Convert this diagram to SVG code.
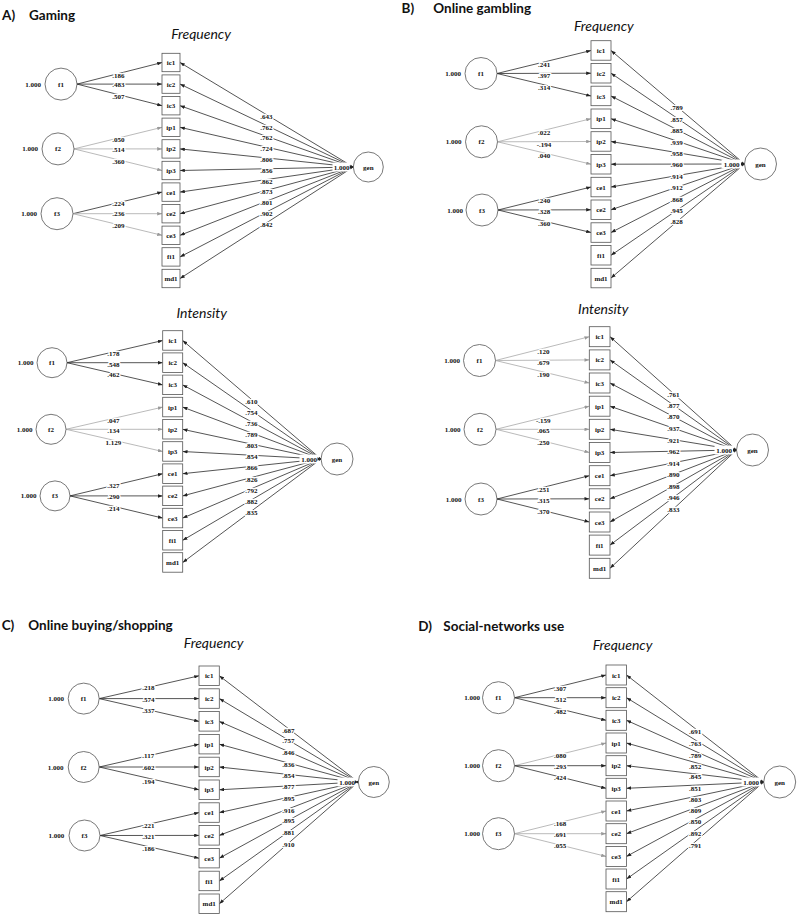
<svg xmlns="http://www.w3.org/2000/svg" width="797" height="916" viewBox="0 0 797 916">
<style>
.bg{fill:#fff}
rect.bx{fill:#fff;stroke:#555;stroke-width:0.8}
circle.ci{fill:#fff;stroke:#555;stroke-width:0.8}
text{font-family:"Liberation Serif",serif;font-weight:bold;font-size:7px;fill:#111}
.t{text-anchor:middle}
.v{text-anchor:end}
.n{text-anchor:middle;stroke:#fff;stroke-width:2.6px;stroke-linejoin:round;paint-order:stroke}
.ld{stroke:#2a2a2a;stroke-width:0.8;fill:none;marker-end:url(#ad)}
.lg{stroke:#a8a8a8;stroke-width:0.8;fill:none;marker-end:url(#ag)}
.cov{fill:#fff}
.ah{fill:#222}
.ttl{font-family:Lato,"Liberation Sans",sans-serif;font-weight:bold;font-size:13.5px;fill:#111}
.sub{font-family:Lato,"Liberation Sans",sans-serif;font-style:italic;font-weight:normal;font-size:14px;fill:#111;text-anchor:middle}
</style>
<defs>
<marker id="ad" viewBox="0 0 8 6" refX="8" refY="3" markerWidth="5" markerHeight="3.6" orient="auto" markerUnits="userSpaceOnUse"><path d="M0,0L8,3L0,6z" fill="#222"/></marker>
<marker id="ag" viewBox="0 0 8 6" refX="8" refY="3" markerWidth="5" markerHeight="3.6" orient="auto" markerUnits="userSpaceOnUse"><path d="M0,0L8,3L0,6z" fill="#999"/></marker>
</defs>
<rect class="bg" x="0" y="0" width="797" height="916"/>

<!-- Titles -->
<g id="titles">
<text class="ttl" x="2" y="20">A)</text><text class="ttl" x="29" y="20">Gaming</text>
<text class="ttl" x="401.5" y="13">B)</text><text class="ttl" x="433.3" y="13">Online gambling</text>
<text class="ttl" x="1.7" y="629.5">C)</text><text class="ttl" x="28.3" y="629.5">Online buying/shopping</text>
<text class="ttl" x="418.3" y="631">D)</text><text class="ttl" x="443.3" y="631">Social-networks use</text>
<text class="sub" x="201" y="38.5">Frequency</text>
<text class="sub" x="201.7" y="317.5">Intensity</text>
<text class="sub" x="603.8" y="30.5">Frequency</text>
<text class="sub" x="603.3" y="314">Intensity</text>
<text class="sub" x="213.7" y="648">Frequency</text>
<text class="sub" x="622.5" y="650">Frequency</text>
</g>

<!-- ================= Panel A Frequency ================= -->
<g id="a1-edges">
<line class="ld" x1="77" y1="84.1" x2="162" y2="62.5"/>
<line class="ld" x1="77" y1="84.1" x2="162" y2="84.1"/>
<line class="ld" x1="77" y1="84.1" x2="162" y2="105.7"/>
<line class="lg" x1="74" y1="148.9" x2="162" y2="127.3"/>
<line class="lg" x1="74" y1="148.9" x2="162" y2="148.9"/>
<line class="lg" x1="74" y1="148.9" x2="162" y2="170.5"/>
<line class="ld" x1="73" y1="213.7" x2="162" y2="192.1"/>
<line class="lg" x1="73" y1="213.7" x2="162" y2="213.7"/>
<line class="lg" x1="73" y1="213.7" x2="162" y2="235.3"/>
<line class="ld" x1="353.3" y1="167" x2="180" y2="62.5"/>
<line class="ld" x1="353.3" y1="167" x2="180" y2="84.1"/>
<line class="ld" x1="353.3" y1="167" x2="180" y2="105.7"/>
<line class="ld" x1="353.3" y1="167" x2="180" y2="127.3"/>
<line class="ld" x1="353.3" y1="167" x2="180" y2="148.9"/>
<line class="ld" x1="353.3" y1="167" x2="180" y2="170.5"/>
<line class="ld" x1="353.3" y1="167" x2="180" y2="192.1"/>
<line class="ld" x1="353.3" y1="167" x2="180" y2="213.7"/>
<line class="ld" x1="353.3" y1="167" x2="180" y2="235.3"/>
<line class="ld" x1="353.3" y1="167" x2="180" y2="256.9"/>
<line class="ld" x1="353.3" y1="167" x2="180" y2="278.5"/>
<text class="n" x="118.3" y="77.5">.186</text>
<text class="n" x="118.3" y="86.8">.483</text>
<text class="n" x="118.3" y="99.2">.507</text>
<text class="n" x="118.3" y="141.8">.050</text>
<text class="n" x="118.3" y="151.5">.514</text>
<text class="n" x="118.3" y="164.2">.360</text>
<text class="n" x="118.3" y="205.8">.224</text>
<text class="n" x="118.3" y="215.8">.236</text>
<text class="n" x="118.3" y="228.2">.209</text>
<text class="n" x="266.3" y="119.2">.643</text>
<text class="n" x="266.3" y="129.5">.762</text>
<text class="n" x="266.3" y="139.8">.762</text>
<text class="n" x="266.3" y="151.2">.724</text>
<text class="n" x="266.3" y="161.8">.806</text>
<text class="n" x="266.3" y="172.5">.856</text>
<text class="n" x="266.3" y="183.5">.862</text>
<text class="n" x="266.3" y="194.2">.873</text>
<text class="n" x="266.3" y="205.2">.801</text>
<text class="n" x="266.3" y="215.8">.902</text>
<text class="n" x="266.3" y="226.5">.842</text>
</g>
<g id="a1-nodes">
<g id="a1-f1"><circle class="ci" cx="61" cy="84.1" r="16"/><text class="t" x="61" y="86.6">f1</text><text class="v" x="41" y="86.6">1.000</text></g>
<g id="a1-f2"><circle class="ci" cx="58" cy="148.9" r="16"/><text class="t" x="58" y="151.4">f2</text><text class="v" x="38" y="151.4">1.000</text></g>
<g id="a1-f3"><circle class="ci" cx="57" cy="213.7" r="16"/><text class="t" x="57" y="216.2">f3</text><text class="v" x="37" y="216.2">1.000</text></g>
<g id="a1-gen"><circle class="ci" cx="368.3" cy="167" r="15"/><text class="t" x="368.3" y="169.5">gen</text><rect class="cov" x="332.5" y="162.5" width="18" height="9"/><text class="t" x="341.5" y="169.5">1.000</text><polygon class="ah" points="353.3,167 349.8,165.3 349.8,168.7"/></g>
<g id="a1-ic1"><rect class="bx" x="162" y="53.3" width="18" height="18.4"/><text class="t" x="171" y="65">ic1</text></g>
<g id="a1-ic2"><rect class="bx" x="162" y="74.9" width="18" height="18.4"/><text class="t" x="171" y="86.6">ic2</text></g>
<g id="a1-ic3"><rect class="bx" x="162" y="96.5" width="18" height="18.4"/><text class="t" x="171" y="108.2">ic3</text></g>
<g id="a1-ip1"><rect class="bx" x="162" y="118.1" width="18" height="18.4"/><text class="t" x="171" y="129.8">ip1</text></g>
<g id="a1-ip2"><rect class="bx" x="162" y="139.7" width="18" height="18.4"/><text class="t" x="171" y="151.4">ip2</text></g>
<g id="a1-ip3"><rect class="bx" x="162" y="161.3" width="18" height="18.4"/><text class="t" x="171" y="173">ip3</text></g>
<g id="a1-ce1"><rect class="bx" x="162" y="182.9" width="18" height="18.4"/><text class="t" x="171" y="194.6">ce1</text></g>
<g id="a1-ce2"><rect class="bx" x="162" y="204.5" width="18" height="18.4"/><text class="t" x="171" y="216.2">ce2</text></g>
<g id="a1-ce3"><rect class="bx" x="162" y="226.1" width="18" height="18.4"/><text class="t" x="171" y="237.8">ce3</text></g>
<g id="a1-fi1"><rect class="bx" x="162" y="247.7" width="18" height="18.4"/><text class="t" x="171" y="259.4">fi1</text></g>
<g id="a1-md1"><rect class="bx" x="162" y="269.3" width="18" height="18.4"/><text class="t" x="171" y="281">md1</text></g>
</g>

<!-- ================= Panel A Intensity ================= -->
<g id="a2-edges">
<line class="ld" x1="67" y1="362.7" x2="162.7" y2="340.5"/>
<line class="ld" x1="67" y1="362.7" x2="162.7" y2="362.7"/>
<line class="ld" x1="67" y1="362.7" x2="162.7" y2="384.9"/>
<line class="lg" x1="66" y1="429.3" x2="162.7" y2="407.1"/>
<line class="lg" x1="66" y1="429.3" x2="162.7" y2="429.3"/>
<line class="lg" x1="66" y1="429.3" x2="162.7" y2="451.5"/>
<line class="ld" x1="70" y1="495.9" x2="162.7" y2="473.7"/>
<line class="ld" x1="70" y1="495.9" x2="162.7" y2="495.9"/>
<line class="ld" x1="70" y1="495.9" x2="162.7" y2="518.1"/>
<line class="ld" x1="321" y1="459" x2="182.7" y2="340.5"/>
<line class="ld" x1="321" y1="459" x2="182.7" y2="362.7"/>
<line class="ld" x1="321" y1="459" x2="182.7" y2="384.9"/>
<line class="ld" x1="321" y1="459" x2="182.7" y2="407.1"/>
<line class="ld" x1="321" y1="459" x2="182.7" y2="429.3"/>
<line class="ld" x1="321" y1="459" x2="182.7" y2="451.5"/>
<line class="ld" x1="321" y1="459" x2="182.7" y2="473.7"/>
<line class="ld" x1="321" y1="459" x2="182.7" y2="495.9"/>
<line class="ld" x1="321" y1="459" x2="182.7" y2="518.1"/>
<line class="ld" x1="321" y1="459" x2="182.7" y2="540.3"/>
<line class="ld" x1="321" y1="459" x2="182.7" y2="562.5"/>
<text class="n" x="113.3" y="355.8">.178</text>
<text class="n" x="113.3" y="366.5">.548</text>
<text class="n" x="113.3" y="377.2">.462</text>
<text class="n" x="113.3" y="422.5">.047</text>
<text class="n" x="113.3" y="433.2">.134</text>
<text class="n" x="113.3" y="444.8">1.129</text>
<text class="n" x="113.3" y="488.2">.327</text>
<text class="n" x="113.3" y="499.2">.290</text>
<text class="n" x="113.3" y="510.8">.214</text>
<text class="n" x="251.3" y="404.2">.610</text>
<text class="n" x="251.3" y="414.8">.754</text>
<text class="n" x="251.3" y="425.8">.736</text>
<text class="n" x="251.3" y="436.8">.789</text>
<text class="n" x="251.3" y="448.2">.803</text>
<text class="n" x="251.3" y="459.2">.854</text>
<text class="n" x="251.3" y="469.8">.866</text>
<text class="n" x="251.3" y="481.5">.826</text>
<text class="n" x="251.3" y="492.5">.792</text>
<text class="n" x="251.3" y="503.5">.882</text>
<text class="n" x="251.3" y="514.8">.835</text>
</g>
<g id="a2-nodes">
<g id="a2-f1"><circle class="ci" cx="52" cy="362.7" r="15"/><text class="t" x="52" y="365.2">f1</text><text class="v" x="33.5" y="365.2">1.000</text></g>
<g id="a2-f2"><circle class="ci" cx="51" cy="429.3" r="15"/><text class="t" x="51" y="431.8">f2</text><text class="v" x="32.5" y="431.8">1.000</text></g>
<g id="a2-f3"><circle class="ci" cx="55" cy="495.9" r="15"/><text class="t" x="55" y="498.4">f3</text><text class="v" x="36.5" y="498.4">1.000</text></g>
<g id="a2-gen"><circle class="ci" cx="337" cy="459" r="16"/><text class="t" x="337" y="461.5">gen</text><rect class="cov" x="299.5" y="454.5" width="19.5" height="9"/><text class="t" x="309.2" y="461.5">1.000</text><polygon class="ah" points="321,459 317.5,457.3 317.5,460.7"/></g>
<g id="a2-ic1"><rect class="bx" x="162.7" y="330.7" width="20" height="19.5"/><text class="t" x="172.7" y="343">ic1</text></g>
<g id="a2-ic2"><rect class="bx" x="162.7" y="352.9" width="20" height="19.5"/><text class="t" x="172.7" y="365.2">ic2</text></g>
<g id="a2-ic3"><rect class="bx" x="162.7" y="375.1" width="20" height="19.5"/><text class="t" x="172.7" y="387.4">ic3</text></g>
<g id="a2-ip1"><rect class="bx" x="162.7" y="397.3" width="20" height="19.5"/><text class="t" x="172.7" y="409.6">ip1</text></g>
<g id="a2-ip2"><rect class="bx" x="162.7" y="419.5" width="20" height="19.5"/><text class="t" x="172.7" y="431.8">ip2</text></g>
<g id="a2-ip3"><rect class="bx" x="162.7" y="441.7" width="20" height="19.5"/><text class="t" x="172.7" y="454">ip3</text></g>
<g id="a2-ce1"><rect class="bx" x="162.7" y="463.9" width="20" height="19.5"/><text class="t" x="172.7" y="476.2">ce1</text></g>
<g id="a2-ce2"><rect class="bx" x="162.7" y="486.1" width="20" height="19.5"/><text class="t" x="172.7" y="498.4">ce2</text></g>
<g id="a2-ce3"><rect class="bx" x="162.7" y="508.3" width="20" height="19.5"/><text class="t" x="172.7" y="520.6">ce3</text></g>
<g id="a2-fi1"><rect class="bx" x="162.7" y="530.5" width="20" height="19.5"/><text class="t" x="172.7" y="542.8">fi1</text></g>
<g id="a2-md1"><rect class="bx" x="162.7" y="552.7" width="20" height="19.5"/><text class="t" x="172.7" y="565">md1</text></g>
</g>

<!-- ================= Panel B Frequency ================= -->
<g id="b1-edges">
<line class="ld" x1="497" y1="73.5" x2="591" y2="50.5"/>
<line class="ld" x1="497" y1="73.5" x2="591" y2="73.2"/>
<line class="ld" x1="497" y1="73.5" x2="591" y2="96"/>
<line class="lg" x1="497.5" y1="141.8" x2="591" y2="118.7"/>
<line class="lg" x1="497.5" y1="141.8" x2="591" y2="141.5"/>
<line class="lg" x1="497.5" y1="141.8" x2="591" y2="164.2"/>
<line class="ld" x1="498" y1="210" x2="591" y2="187"/>
<line class="ld" x1="498" y1="210" x2="591" y2="209.8"/>
<line class="ld" x1="498" y1="210" x2="591" y2="232.5"/>
<line class="ld" x1="744.5" y1="164" x2="611" y2="50.5"/>
<line class="ld" x1="744.5" y1="164" x2="611" y2="73.2"/>
<line class="ld" x1="744.5" y1="164" x2="611" y2="96"/>
<line class="ld" x1="744.5" y1="164" x2="611" y2="118.7"/>
<line class="ld" x1="744.5" y1="164" x2="611" y2="141.5"/>
<line class="ld" x1="744.5" y1="164" x2="611" y2="164.2"/>
<line class="ld" x1="744.5" y1="164" x2="611" y2="187"/>
<line class="ld" x1="744.5" y1="164" x2="611" y2="209.8"/>
<line class="ld" x1="744.5" y1="164" x2="611" y2="232.5"/>
<line class="ld" x1="744.5" y1="164" x2="611" y2="255.3"/>
<line class="ld" x1="744.5" y1="164" x2="611" y2="278"/>
<text class="n" x="544" y="66.8">.241</text>
<text class="n" x="544" y="78.2">.397</text>
<text class="n" x="544" y="90.2">.314</text>
<text class="n" x="544" y="135.2">.022</text>
<text class="n" x="544" y="146.5">-.194</text>
<text class="n" x="544" y="157.5">.040</text>
<text class="n" x="544" y="203.2">.240</text>
<text class="n" x="544" y="213.5">.328</text>
<text class="n" x="544" y="225.8">.360</text>
<text class="n" x="676.7" y="110.2">.789</text>
<text class="n" x="676.7" y="121.8">.857</text>
<text class="n" x="676.7" y="133.2">.885</text>
<text class="n" x="676.7" y="144.8">.939</text>
<text class="n" x="676.7" y="155.8">.958</text>
<text class="n" x="676.7" y="167.2">.960</text>
<text class="n" x="676.7" y="178.5">.914</text>
<text class="n" x="676.7" y="189.8">.912</text>
<text class="n" x="676.7" y="201.5">.868</text>
<text class="n" x="676.7" y="212.8">.945</text>
<text class="n" x="676.7" y="224.2">.828</text>
</g>
<g id="b1-nodes">
<g id="b1-f1"><circle class="ci" cx="481" cy="73.5" r="16"/><text class="t" x="481" y="76">f1</text><text class="v" x="461" y="76">1.000</text></g>
<g id="b1-f2"><circle class="ci" cx="481.5" cy="141.8" r="16"/><text class="t" x="481.5" y="144.3">f2</text><text class="v" x="461.5" y="144.3">1.000</text></g>
<g id="b1-f3"><circle class="ci" cx="482" cy="210" r="16"/><text class="t" x="482" y="212.5">f3</text><text class="v" x="463" y="212.5">1.000</text></g>
<g id="b1-gen"><circle class="ci" cx="760.5" cy="164" r="16"/><text class="t" x="760.5" y="166.5">gen</text><rect class="cov" x="721.5" y="159.5" width="20.5" height="9"/><text class="t" x="731.7" y="166.5">1.000</text><polygon class="ah" points="744.5,164 741,162.3 741,165.7"/></g>
<g id="b1-ic1"><rect class="bx" x="591" y="40.7" width="20" height="19.5"/><text class="t" x="601" y="53">ic1</text></g>
<g id="b1-ic2"><rect class="bx" x="591" y="63.5" width="20" height="19.5"/><text class="t" x="601" y="75.7">ic2</text></g>
<g id="b1-ic3"><rect class="bx" x="591" y="86.2" width="20" height="19.5"/><text class="t" x="601" y="98.5">ic3</text></g>
<g id="b1-ip1"><rect class="bx" x="591" y="109" width="20" height="19.5"/><text class="t" x="601" y="121.2">ip1</text></g>
<g id="b1-ip2"><rect class="bx" x="591" y="131.7" width="20" height="19.5"/><text class="t" x="601" y="144">ip2</text></g>
<g id="b1-ip3"><rect class="bx" x="591" y="154.5" width="20" height="19.5"/><text class="t" x="601" y="166.7">ip3</text></g>
<g id="b1-ce1"><rect class="bx" x="591" y="177.3" width="20" height="19.5"/><text class="t" x="601" y="189.5">ce1</text></g>
<g id="b1-ce2"><rect class="bx" x="591" y="200" width="20" height="19.5"/><text class="t" x="601" y="212.3">ce2</text></g>
<g id="b1-ce3"><rect class="bx" x="591" y="222.8" width="20" height="19.5"/><text class="t" x="601" y="235">ce3</text></g>
<g id="b1-fi1"><rect class="bx" x="591" y="245.5" width="20" height="19.5"/><text class="t" x="601" y="257.8">fi1</text></g>
<g id="b1-md1"><rect class="bx" x="591" y="268.3" width="20" height="19.5"/><text class="t" x="601" y="280.5">md1</text></g>
</g>

<!-- ================= Panel B Intensity ================= -->
<g id="b2-edges">
<line class="lg" x1="495.5" y1="360.5" x2="589.3" y2="336.7"/>
<line class="lg" x1="495.5" y1="360.5" x2="589.3" y2="359.9"/>
<line class="lg" x1="495.5" y1="360.5" x2="589.3" y2="383"/>
<line class="lg" x1="496" y1="429.3" x2="589.3" y2="406.2"/>
<line class="lg" x1="496" y1="429.3" x2="589.3" y2="429.3"/>
<line class="lg" x1="496" y1="429.3" x2="589.3" y2="452.5"/>
<line class="ld" x1="497" y1="499" x2="589.3" y2="475.7"/>
<line class="ld" x1="497" y1="499" x2="589.3" y2="498.8"/>
<line class="ld" x1="497" y1="499" x2="589.3" y2="522"/>
<line class="ld" x1="736.5" y1="450" x2="610" y2="336.7"/>
<line class="ld" x1="736.5" y1="450" x2="610" y2="359.9"/>
<line class="ld" x1="736.5" y1="450" x2="610" y2="383"/>
<line class="ld" x1="736.5" y1="450" x2="610" y2="406.2"/>
<line class="ld" x1="736.5" y1="450" x2="610" y2="429.3"/>
<line class="ld" x1="736.5" y1="450" x2="610" y2="452.5"/>
<line class="ld" x1="736.5" y1="450" x2="610" y2="475.7"/>
<line class="ld" x1="736.5" y1="450" x2="610" y2="498.8"/>
<line class="ld" x1="736.5" y1="450" x2="610" y2="522"/>
<line class="ld" x1="736.5" y1="450" x2="610" y2="545.1"/>
<line class="ld" x1="736.5" y1="450" x2="610" y2="568.3"/>
<text class="n" x="543.3" y="353.5">.120</text>
<text class="n" x="543.3" y="364.5">.679</text>
<text class="n" x="543.3" y="376.5">.190</text>
<text class="n" x="543.3" y="422.5">-.159</text>
<text class="n" x="543.3" y="432.5">.065</text>
<text class="n" x="543.3" y="445.2">.250</text>
<text class="n" x="543.3" y="491.8">.251</text>
<text class="n" x="543.3" y="502.5">.315</text>
<text class="n" x="543.3" y="514.2">.370</text>
<text class="n" x="673.3" y="396.5">.761</text>
<text class="n" x="673.3" y="407.5">.877</text>
<text class="n" x="673.3" y="419.2">.870</text>
<text class="n" x="673.3" y="430.8">.937</text>
<text class="n" x="673.3" y="442.5">.921</text>
<text class="n" x="673.3" y="454.2">.962</text>
<text class="n" x="673.3" y="465.8">.914</text>
<text class="n" x="673.3" y="476.8">.890</text>
<text class="n" x="673.3" y="488.5">.898</text>
<text class="n" x="673.3" y="500.2">.946</text>
<text class="n" x="673.3" y="511.8">.833</text>
</g>
<g id="b2-nodes">
<g id="b2-f1"><circle class="ci" cx="479.5" cy="360.5" r="16"/><text class="t" x="479.5" y="363">f1</text><text class="v" x="460" y="363">1.000</text></g>
<g id="b2-f2"><circle class="ci" cx="480" cy="429.3" r="16"/><text class="t" x="480" y="431.8">f2</text><text class="v" x="460.5" y="431.8">1.000</text></g>
<g id="b2-f3"><circle class="ci" cx="481" cy="499" r="16"/><text class="t" x="481" y="501.5">f3</text><text class="v" x="461.5" y="501.5">1.000</text></g>
<g id="b2-gen"><circle class="ci" cx="752.5" cy="450" r="16"/><text class="t" x="752.5" y="452.5">gen</text><rect class="cov" x="714.5" y="445.5" width="19.5" height="9"/><text class="t" x="724.2" y="452.5">1.000</text><polygon class="ah" points="736.5,450 733,448.3 733,451.7"/></g>
<g id="b2-ic1"><rect class="bx" x="589.3" y="326.7" width="20.7" height="20"/><text class="t" x="599.7" y="339.2">ic1</text></g>
<g id="b2-ic2"><rect class="bx" x="589.3" y="349.9" width="20.7" height="20"/><text class="t" x="599.7" y="362.4">ic2</text></g>
<g id="b2-ic3"><rect class="bx" x="589.3" y="373" width="20.7" height="20"/><text class="t" x="599.7" y="385.5">ic3</text></g>
<g id="b2-ip1"><rect class="bx" x="589.3" y="396.2" width="20.7" height="20"/><text class="t" x="599.7" y="408.7">ip1</text></g>
<g id="b2-ip2"><rect class="bx" x="589.3" y="419.3" width="20.7" height="20"/><text class="t" x="599.7" y="431.8">ip2</text></g>
<g id="b2-ip3"><rect class="bx" x="589.3" y="442.5" width="20.7" height="20"/><text class="t" x="599.7" y="455">ip3</text></g>
<g id="b2-ce1"><rect class="bx" x="589.3" y="465.7" width="20.7" height="20"/><text class="t" x="599.7" y="478.2">ce1</text></g>
<g id="b2-ce2"><rect class="bx" x="589.3" y="488.8" width="20.7" height="20"/><text class="t" x="599.7" y="501.3">ce2</text></g>
<g id="b2-ce3"><rect class="bx" x="589.3" y="512" width="20.7" height="20"/><text class="t" x="599.7" y="524.5">ce3</text></g>
<g id="b2-fi1"><rect class="bx" x="589.3" y="535.1" width="20.7" height="20"/><text class="t" x="599.7" y="547.6">fi1</text></g>
<g id="b2-md1"><rect class="bx" x="589.3" y="558.3" width="20.7" height="20"/><text class="t" x="599.7" y="570.8">md1</text></g>
</g>

<!-- ================= Panel C Frequency ================= -->
<g id="c1-edges">
<line class="ld" x1="99.2" y1="698.6" x2="199" y2="675.8"/>
<line class="ld" x1="99.2" y1="698.6" x2="199" y2="698.6"/>
<line class="ld" x1="99.2" y1="698.6" x2="199" y2="721.4"/>
<line class="ld" x1="99.2" y1="767" x2="199" y2="744.2"/>
<line class="ld" x1="99.2" y1="767" x2="199" y2="767"/>
<line class="ld" x1="99.2" y1="767" x2="199" y2="789.8"/>
<line class="ld" x1="100" y1="835.5" x2="199" y2="812.6"/>
<line class="ld" x1="100" y1="835.5" x2="199" y2="835.4"/>
<line class="ld" x1="100" y1="835.5" x2="199" y2="858.2"/>
<line class="ld" x1="358.3" y1="782" x2="219.3" y2="675.8"/>
<line class="ld" x1="358.3" y1="782" x2="219.3" y2="698.6"/>
<line class="ld" x1="358.3" y1="782" x2="219.3" y2="721.4"/>
<line class="ld" x1="358.3" y1="782" x2="219.3" y2="744.2"/>
<line class="ld" x1="358.3" y1="782" x2="219.3" y2="767"/>
<line class="ld" x1="358.3" y1="782" x2="219.3" y2="789.8"/>
<line class="ld" x1="358.3" y1="782" x2="219.3" y2="812.6"/>
<line class="ld" x1="358.3" y1="782" x2="219.3" y2="835.4"/>
<line class="ld" x1="358.3" y1="782" x2="219.3" y2="858.2"/>
<line class="ld" x1="358.3" y1="782" x2="219.3" y2="881"/>
<line class="ld" x1="358.3" y1="782" x2="219.3" y2="903.8"/>
<text class="n" x="148.3" y="690.2">.218</text>
<text class="n" x="148.3" y="701.5">.574</text>
<text class="n" x="148.3" y="713.2">.337</text>
<text class="n" x="148.3" y="758.2">.117</text>
<text class="n" x="148.3" y="770.2">.602</text>
<text class="n" x="148.3" y="783.5">.194</text>
<text class="n" x="148.3" y="827.5">.221</text>
<text class="n" x="148.3" y="839.2">.321</text>
<text class="n" x="148.3" y="850.8">.186</text>
<text class="n" x="288.3" y="732.5">.687</text>
<text class="n" x="288.3" y="743.2">.757</text>
<text class="n" x="288.3" y="754.8">.846</text>
<text class="n" x="288.3" y="766.5">.836</text>
<text class="n" x="288.3" y="778.2">.854</text>
<text class="n" x="288.3" y="789.2">.877</text>
<text class="n" x="288.3" y="800.8">.895</text>
<text class="n" x="288.3" y="812.5">.916</text>
<text class="n" x="288.3" y="823.2">.895</text>
<text class="n" x="288.3" y="834.8">.881</text>
<text class="n" x="288.3" y="846.5">.910</text>
</g>
<g id="c1-nodes">
<g id="c1-f1"><circle class="ci" cx="83.7" cy="698.6" r="15.5"/><text class="t" x="83.7" y="701.1">f1</text><text class="v" x="64" y="701.1">1.000</text></g>
<g id="c1-f2"><circle class="ci" cx="83.7" cy="767" r="15.5"/><text class="t" x="83.7" y="769.5">f2</text><text class="v" x="63.5" y="769.5">1.000</text></g>
<g id="c1-f3"><circle class="ci" cx="84.5" cy="835.5" r="15.5"/><text class="t" x="84.5" y="838">f3</text><text class="v" x="64.3" y="838">1.000</text></g>
<g id="c1-gen"><circle class="ci" cx="373.8" cy="782" r="15.5"/><text class="t" x="373.8" y="784.5">gen</text><rect class="cov" x="337.5" y="777.5" width="19.5" height="9"/><text class="t" x="347.2" y="784.5">1.000</text><polygon class="ah" points="358.3,782 354.8,780.3 354.8,783.7"/></g>
<g id="c1-ic1"><rect class="bx" x="199" y="666" width="20.3" height="19.5"/><text class="t" x="209.2" y="678.3">ic1</text></g>
<g id="c1-ic2"><rect class="bx" x="199" y="688.8" width="20.3" height="19.5"/><text class="t" x="209.2" y="701.1">ic2</text></g>
<g id="c1-ic3"><rect class="bx" x="199" y="711.6" width="20.3" height="19.5"/><text class="t" x="209.2" y="723.9">ic3</text></g>
<g id="c1-ip1"><rect class="bx" x="199" y="734.4" width="20.3" height="19.5"/><text class="t" x="209.2" y="746.7">ip1</text></g>
<g id="c1-ip2"><rect class="bx" x="199" y="757.2" width="20.3" height="19.5"/><text class="t" x="209.2" y="769.5">ip2</text></g>
<g id="c1-ip3"><rect class="bx" x="199" y="780" width="20.3" height="19.5"/><text class="t" x="209.2" y="792.3">ip3</text></g>
<g id="c1-ce1"><rect class="bx" x="199" y="802.8" width="20.3" height="19.5"/><text class="t" x="209.2" y="815.1">ce1</text></g>
<g id="c1-ce2"><rect class="bx" x="199" y="825.6" width="20.3" height="19.5"/><text class="t" x="209.2" y="837.9">ce2</text></g>
<g id="c1-ce3"><rect class="bx" x="199" y="848.4" width="20.3" height="19.5"/><text class="t" x="209.2" y="860.7">ce3</text></g>
<g id="c1-fi1"><rect class="bx" x="199" y="871.2" width="20.3" height="19.5"/><text class="t" x="209.2" y="883.5">fi1</text></g>
<g id="c1-md1"><rect class="bx" x="199" y="894" width="20.3" height="19.5"/><text class="t" x="209.2" y="906.3">md1</text></g>
</g>

<!-- ================= Panel D Frequency ================= -->
<g id="d1-edges">
<line class="ld" x1="514.5" y1="697.7" x2="606" y2="675"/>
<line class="ld" x1="514.5" y1="697.7" x2="606" y2="697.7"/>
<line class="ld" x1="514.5" y1="697.7" x2="606" y2="720.3"/>
<line class="lg" x1="514.5" y1="765.7" x2="606" y2="743"/>
<line class="ld" x1="514.5" y1="765.7" x2="606" y2="765.7"/>
<line class="ld" x1="514.5" y1="765.7" x2="606" y2="788.3"/>
<line class="lg" x1="514.5" y1="833.7" x2="606" y2="811"/>
<line class="lg" x1="514.5" y1="833.7" x2="606" y2="833.7"/>
<line class="lg" x1="514.5" y1="833.7" x2="606" y2="856.4"/>
<line class="ld" x1="763.7" y1="782" x2="626.5" y2="675"/>
<line class="ld" x1="763.7" y1="782" x2="626.5" y2="697.7"/>
<line class="ld" x1="763.7" y1="782" x2="626.5" y2="720.3"/>
<line class="ld" x1="763.7" y1="782" x2="626.5" y2="743"/>
<line class="ld" x1="763.7" y1="782" x2="626.5" y2="765.7"/>
<line class="ld" x1="763.7" y1="782" x2="626.5" y2="788.3"/>
<line class="ld" x1="763.7" y1="782" x2="626.5" y2="811"/>
<line class="ld" x1="763.7" y1="782" x2="626.5" y2="833.7"/>
<line class="ld" x1="763.7" y1="782" x2="626.5" y2="856.4"/>
<line class="ld" x1="763.7" y1="782" x2="626.5" y2="879"/>
<line class="ld" x1="763.7" y1="782" x2="626.5" y2="901.7"/>
<text class="n" x="560" y="690.8">.307</text>
<text class="n" x="560" y="701.5">.512</text>
<text class="n" x="560" y="713.5">.482</text>
<text class="n" x="560" y="758.2">.080</text>
<text class="n" x="560" y="769.2">.293</text>
<text class="n" x="560" y="780.2">.424</text>
<text class="n" x="560" y="825.8">.168</text>
<text class="n" x="560" y="836.8">.691</text>
<text class="n" x="560" y="848.2">.055</text>
<text class="n" x="695" y="734.2">.691</text>
<text class="n" x="695" y="745.8">.763</text>
<text class="n" x="695" y="757.5">.789</text>
<text class="n" x="695" y="768.5">.852</text>
<text class="n" x="695" y="779.2">.845</text>
<text class="n" x="695" y="790.8">.851</text>
<text class="n" x="695" y="801.8">.803</text>
<text class="n" x="695" y="813.2">.809</text>
<text class="n" x="695" y="824.2">.850</text>
<text class="n" x="695" y="835.8">.892</text>
<text class="n" x="695" y="847.5">.791</text>
</g>
<g id="d1-nodes">
<g id="d1-f1"><circle class="ci" cx="498.5" cy="697.7" r="16"/><text class="t" x="498.5" y="700.2">f1</text><text class="v" x="480" y="700.2">1.000</text></g>
<g id="d1-f2"><circle class="ci" cx="498.5" cy="765.7" r="16"/><text class="t" x="498.5" y="768.2">f2</text><text class="v" x="480" y="768.2">1.000</text></g>
<g id="d1-f3"><circle class="ci" cx="498.5" cy="833.7" r="16"/><text class="t" x="498.5" y="836.2">f3</text><text class="v" x="480" y="836.2">1.000</text></g>
<g id="d1-gen"><circle class="ci" cx="779.7" cy="782" r="16"/><text class="t" x="779.7" y="784.5">gen</text><rect class="cov" x="741.5" y="777.5" width="19.5" height="9"/><text class="t" x="751" y="784.5">1.000</text><polygon class="ah" points="763.7,782 760.2,780.3 760.2,783.7"/></g>
<g id="d1-ic1"><rect class="bx" x="606" y="665" width="20.5" height="20"/><text class="t" x="616.2" y="677.5">ic1</text></g>
<g id="d1-ic2"><rect class="bx" x="606" y="687.7" width="20.5" height="20"/><text class="t" x="616.2" y="700.2">ic2</text></g>
<g id="d1-ic3"><rect class="bx" x="606" y="710.3" width="20.5" height="20"/><text class="t" x="616.2" y="722.8">ic3</text></g>
<g id="d1-ip1"><rect class="bx" x="606" y="733" width="20.5" height="20"/><text class="t" x="616.2" y="745.5">ip1</text></g>
<g id="d1-ip2"><rect class="bx" x="606" y="755.7" width="20.5" height="20"/><text class="t" x="616.2" y="768.2">ip2</text></g>
<g id="d1-ip3"><rect class="bx" x="606" y="778.3" width="20.5" height="20"/><text class="t" x="616.2" y="790.8">ip3</text></g>
<g id="d1-ce1"><rect class="bx" x="606" y="801" width="20.5" height="20"/><text class="t" x="616.2" y="813.5">ce1</text></g>
<g id="d1-ce2"><rect class="bx" x="606" y="823.7" width="20.5" height="20"/><text class="t" x="616.2" y="836.2">ce2</text></g>
<g id="d1-ce3"><rect class="bx" x="606" y="846.4" width="20.5" height="20"/><text class="t" x="616.2" y="858.9">ce3</text></g>
<g id="d1-fi1"><rect class="bx" x="606" y="869" width="20.5" height="20"/><text class="t" x="616.2" y="881.5">fi1</text></g>
<g id="d1-md1"><rect class="bx" x="606" y="891.7" width="20.5" height="20"/><text class="t" x="616.2" y="904.2">md1</text></g>
</g>
</svg>
